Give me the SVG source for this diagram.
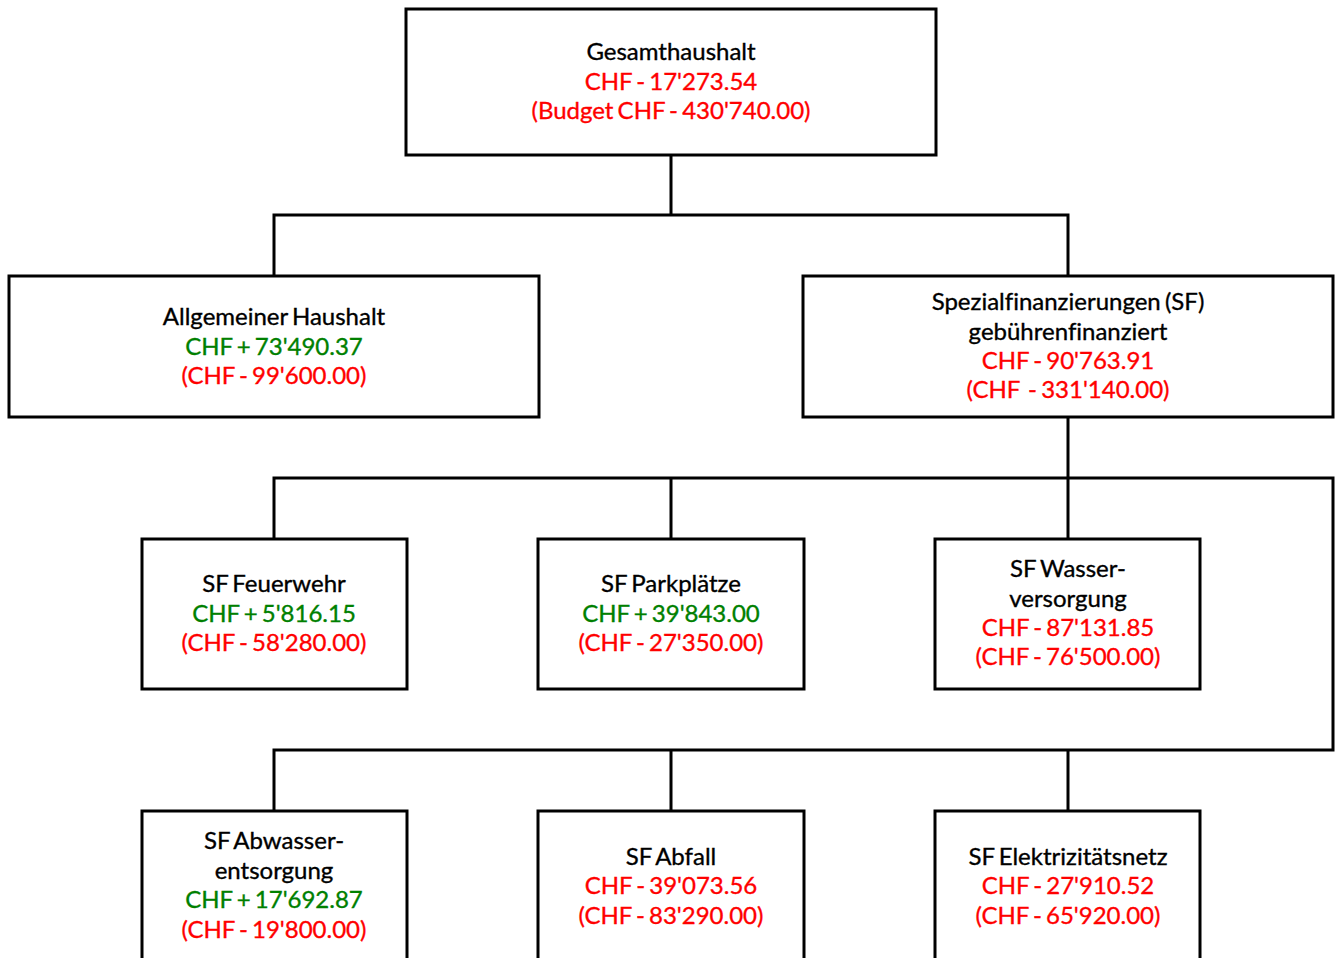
<svg xmlns="http://www.w3.org/2000/svg" width="1336" height="958" viewBox="0 0 1336 958">
<style>
.box{fill:#fff;stroke:#000;stroke-width:3}
.con{fill:none;stroke:#000;stroke-width:3}
text{font-family:Lato,"Open Sans",sans-serif;font-size:24px;word-spacing:-2px;text-anchor:middle;stroke-width:0.35px;font-variant-ligatures:none}
.k{fill:#000;stroke:#000}
.r{fill:#ff0000;stroke:#ff0000}
.g{fill:#008000;stroke:#008000}
.pre{white-space:pre}
</style>
<rect width="1336" height="958" fill="#fff"/>
<g id="connectors">
<path class="con" d="M671 155V215M274 276V215H1068V276"/>
<path class="con" d="M1068 417V478M274 539V478H1333V750H274V811M671 478V539M1068 478V539M671 750V811M1068 750V811"/>
</g>
<g id="gesamt">
<rect class="box" x="406" y="9" width="530" height="146"/>
<text x="671" y="60" class="k">Gesamthaushalt</text>
<text x="671" y="90" class="r">CHF - 17'273.54</text>
<text x="671" y="119" class="r">(Budget CHF - 430'740.00)</text>
</g>
<g id="allgemein">
<rect class="box" x="9" y="276" width="530" height="141"/>
<text x="274" y="325" class="k">Allgemeiner Haushalt</text>
<text x="274" y="355" class="g">CHF + 73'490.37</text>
<text x="274" y="384" class="r">(CHF - 99'600.00)</text>
</g>
<g id="sf">
<rect class="box" x="803" y="276" width="530" height="141"/>
<text x="1068" y="310" class="k">Spezialfinanzierungen (SF)</text>
<text x="1068" y="340" class="k">gebührenfinanziert</text>
<text x="1068" y="369" class="r">CHF - 90'763.91</text>
<text x="1068" y="398" class="r pre">(CHF  - 331'140.00)</text>
</g>
<g id="feuerwehr">
<rect class="box" x="142" y="539" width="265" height="150"/>
<text x="274" y="592" class="k">SF Feuerwehr</text>
<text x="274" y="622" class="g">CHF + 5'816.15</text>
<text x="274" y="651" class="r">(CHF - 58'280.00)</text>
</g>
<g id="parkplaetze">
<rect class="box" x="538" y="539" width="266" height="150"/>
<text x="671" y="592" class="k">SF Parkplätze</text>
<text x="671" y="622" class="g">CHF + 39'843.00</text>
<text x="671" y="651" class="r">(CHF - 27'350.00)</text>
</g>
<g id="wasser">
<rect class="box" x="935" y="539" width="265" height="150"/>
<text x="1068" y="577" class="k">SF Wasser-</text>
<text x="1068" y="607" class="k">versorgung</text>
<text x="1068" y="636" class="r">CHF - 87'131.85</text>
<text x="1068" y="665" class="r">(CHF - 76'500.00)</text>
</g>
<g id="abwasser">
<rect class="box" x="142" y="811" width="265" height="160"/>
<text x="274" y="849" class="k">SF Abwasser-</text>
<text x="274" y="879" class="k">entsorgung</text>
<text x="274" y="908" class="g">CHF + 17'692.87</text>
<text x="274" y="938" class="r">(CHF - 19'800.00)</text>
</g>
<g id="abfall">
<rect class="box" x="538" y="811" width="266" height="160"/>
<text x="671" y="865" class="k">SF Abfall</text>
<text x="671" y="894" class="r">CHF - 39'073.56</text>
<text x="671" y="924" class="r">(CHF - 83'290.00)</text>
</g>
<g id="elektrizitaet">
<rect class="box" x="935" y="811" width="265" height="160"/>
<text x="1068" y="865" class="k">SF Elektrizitätsnetz</text>
<text x="1068" y="894" class="r">CHF - 27'910.52</text>
<text x="1068" y="924" class="r">(CHF - 65'920.00)</text>
</g>
</svg>
